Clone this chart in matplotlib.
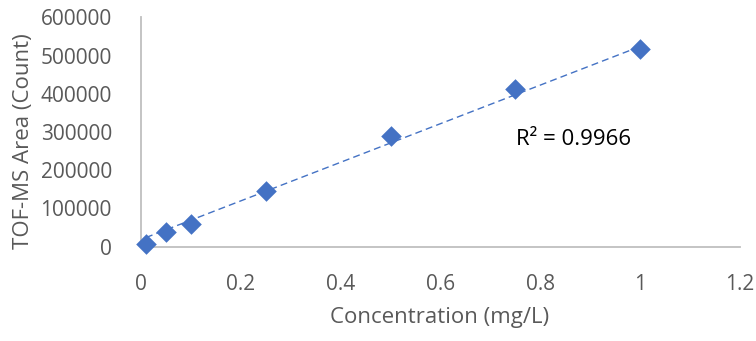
import numpy as np
import matplotlib
matplotlib.use("Agg")
import matplotlib.pyplot as plt

conc = [0.01, 0.05, 0.1, 0.25, 0.5, 0.75, 1.0]
area = [7000, 37700, 59400, 144900, 290300, 411700, 517100]
# linear trendline as drawn in the reference (slope, intercept)
trend_slope = 505000
trend_intercept = 19000
x_ticks = [0, 0.2, 0.4, 0.6, 0.8, 1, 1.2]
x_tick_labels = ["0", "0.2", "0.4", "0.6", "0.8", "1", "1.2"]
y_ticks = [0, 100000, 200000, 300000, 400000, 500000, 600000]
y_tick_labels = [str(v) for v in y_ticks]
r2_text = "R² = 0.9966"

plt.rcParams['font.family'] = ['Open Sans', 'DejaVu Sans']
fig = plt.figure(figsize=(7.56, 3.41), dpi=100)
ax = fig.add_axes([0.1865, 0.2765, 0.7925, 0.6725])

blue = "#4472C4"
x = np.array(conc)
y = np.array(area)
xl = np.array([x.min(), x.max()])
ax.plot(xl, trend_slope * xl + trend_intercept, linestyle=(0, (5, 3)),
        color=blue, linewidth=1.0, zorder=2)
ax.scatter(x, y, marker="D", s=110, color=blue, zorder=3, linewidths=0, clip_on=False)

ax.set_xlim(0, 1.2)
ax.set_ylim(0, 600000)
ax.set_xticks(x_ticks)
ax.set_xticklabels(x_tick_labels)
ax.set_yticks(y_ticks)
ax.set_yticklabels(y_tick_labels)
ax.tick_params(length=0, labelsize=15, colors="#595959")
ax.tick_params(axis="y", pad=21)
ax.tick_params(axis="x", pad=20)
for s in ["top", "right"]:
    ax.spines[s].set_visible(False)
for s in ["left", "bottom"]:
    ax.spines[s].set_color("#BFBFBF")
    ax.spines[s].set_linewidth(1.3)
ax.spines["left"].set_zorder(1)
ax.set_xlabel("Concentration (mg/L)", fontsize=16, color="#595959")
ax.set_ylabel("TOF-MS Area (Count)", fontsize=16, color="#595959")
ax.xaxis.set_label_coords((440 - 141) / 599, -(318 - 246.7) / 229.4)
ax.yaxis.set_label_coords(-(141 - 24) / 599, (246.7 - 141) / 229.4)
ax.xaxis.label.set_va("center")
ax.yaxis.label.set_va("center")
ax.text(0.752, 279500, r2_text, fontsize=16, color="black", va="center", ha="left")

fig.savefig("out.png", dpi=100)
